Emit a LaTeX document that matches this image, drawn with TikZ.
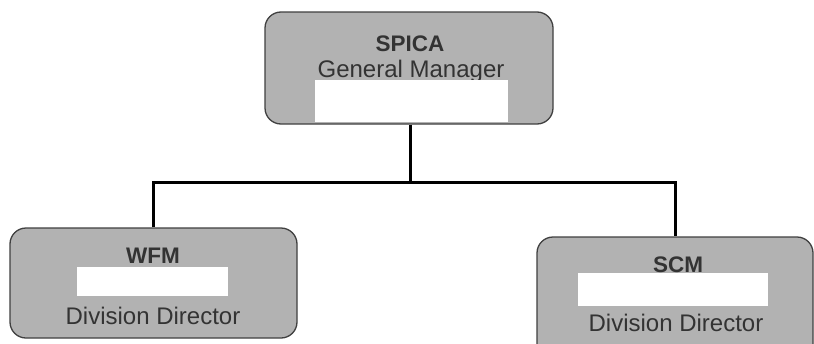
\documentclass[tikz,border=0pt]{standalone}
\usepackage{fontspec}
\setmainfont{Liberation Sans}
\begin{document}
\begin{tikzpicture}[x=1pt,y=-1pt,
  box/.style={draw=black!75,line width=1.3pt,fill=black!30,rounded corners=16pt,inner sep=0pt},
  blank/.style={fill=white,inner sep=0pt},
  lbl/.style={text=black!80,font=\fontsize{24}{26}\selectfont,inner sep=0pt,anchor=base},
  bold/.style={font=\fontsize{22.5}{24}\selectfont\bfseries},
  conn/.style={line width=3pt,black}]
\useasboundingbox (0,0) rectangle (814,343);
\clip (0,0) rectangle (814,343);
\fill[white] (0,0) rectangle (814,343);
% boxes
\node[box,minimum width=288pt,minimum height=112pt] (top) at (409,68) {};
\node[box,minimum width=287pt,minimum height=110pt] (wfm) at (153.5,283) {};
\node[box,minimum width=276pt,minimum height=130pt] (scm) at (675,302) {};
% labels
\node[lbl,bold] (t1) at (410,51) {SPICA};
\node[lbl] (t2) at (411,77) {General Manager};
\node[lbl,bold] (w1) at (153,263) {WFM};
\node[lbl] (w2) at (153,324) {Division Director};
\node[lbl,bold] (s1) at (678,272.5) {SCM};
\node[lbl] (s2) at (676,331) {Division Director};
% white fields
\node[blank,minimum width=193pt,minimum height=42pt] (tw) at (411.5,101) {};
\node[blank,minimum width=151pt,minimum height=29pt] (ww) at (152.5,281.5) {};
\node[blank,minimum width=190pt,minimum height=33pt] (sw) at (673,289.5) {};
% connectors
\coordinate (j) at (410,182);
\draw[conn] (top.south -| j) -- (j);
\draw[conn] (wfm.north) -- (wfm.north |- j) -- (j) -- (scm.north |- j) -- (scm.north);
\end{tikzpicture}
\end{document}
